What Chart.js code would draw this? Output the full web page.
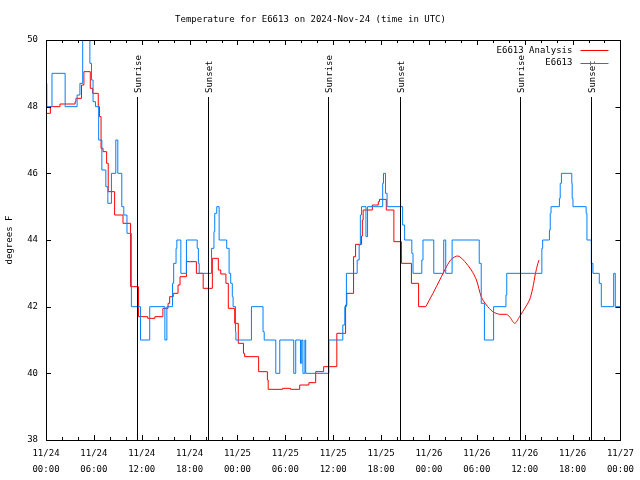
<!DOCTYPE html>
<html>
<head>
<meta charset="utf-8">
<title>Temperature for E6613</title>
<script src="https://cdn.jsdelivr.net/npm/chart.js@4.4.1/dist/chart.umd.min.js"></script>
<style>
    html, body { margin: 0; padding: 0; background: #fff; }
</style>
</head>
<body>
<canvas id="tempChart" width="640" height="480"></canvas>
<script>
// Jam sejak 11/24 00:00 UTC, nilai dalam derajat F
const obsHours = [0, 0.1, 0.75, 2.4, 3.9, 4.25, 4.6, 5.5, 5.7, 5.9, 6.2, 6.6, 7.0, 7.5, 7.75, 8.2, 8.75, 9.0, 9.5, 9.75,
    10.15, 10.7, 11.85, 13.0, 14.9, 15.15, 15.85, 16.0, 16.3, 16.4, 16.9, 17.6, 18.95, 19.1, 19.2, 20.75, 21.05, 21.15, 21.4, 21.7,
    22.65, 22.95, 23.15, 23.35, 23.45, 23.75, 23.8, 25.75, 27.2, 27.35, 28.8, 29.3, 31.05, 31.3, 31.9, 32.05, 32.2, 32.45, 32.55, 35.45,
    37.2, 37.45, 37.65, 39.0, 39.25, 39.4, 39.55, 40.1, 40.3, 42.2, 42.3, 42.55, 42.75, 44.7, 44.95, 45.85, 46.0, 47.1, 47.25, 48.6,
    49.85, 50.1, 50.9, 54.3, 54.55, 54.95, 56.1, 57.65, 57.75, 62.15, 62.25, 63.1, 63.2, 63.3, 64.35, 64.45, 64.6, 65.9, 65.95, 66.05,
    67.7, 67.8, 68.35, 68.55, 69.35, 69.6, 71.15, 71.35, 72];
const obsTemps = [48.7, 48.0, 49.0, 48.0, 48.35, 48.7, 50.5, 49.3, 48.8, 48.15, 48.0, 47.0, 46.1, 45.6, 45.1, 46.0, 47.0, 46.0, 45.0, 44.75,
    44.2, 42.0, 41.0, 42.0, 41.0, 42.0, 42.7, 43.3, 43.75, 44.0, 43.0, 44.0, 43.75, 43.3, 43.0, 43.75, 44.25, 44.8, 45.0, 44.0,
    43.75, 43.0, 42.7, 42.3, 42.0, 41.25, 41.0, 42.0, 41.25, 41.0, 40.0, 41.0, 40.0, 41.0, 40.3, 41.0, 40.0, 41.0, 40.0, 41.0,
    41.45, 42.0, 43.0, 43.4, 43.85, 44.75, 45.0, 44.1, 45.0, 45.7, 46.0, 45.4, 45.0, 44.45, 44.0, 43.6, 43.0, 43.4, 44.0, 43.0,
    44.0, 43.0, 44.0, 43.3, 42.1, 41.0, 42.0, 42.35, 43.0, 43.75, 44.0, 44.3, 44.8, 45.0, 45.25, 45.7, 46.0, 45.7, 45.25, 45.0,
    44.8, 44.0, 43.3, 43.0, 42.7, 42.0, 43.0, 42.0, 42.0];

// Analysis: bagian bertangga lalu bagian halus
const anaStepHours = [0, 0.55, 1.75, 3.65, 3.75, 4.45, 4.75, 5.55, 5.85, 6.55, 6.7, 6.9, 7.15, 7.6, 7.8, 8.6, 9.65, 10.6, 11.6, 12.75,
    13.65, 14.65, 15.3, 15.5, 15.95, 16.55, 16.8, 17.6, 18.85, 19.7, 20.85, 21.6, 21.9, 22.55, 22.85, 23.65, 24.1, 24.75, 24.9, 26.65,
    27.75, 27.85, 29.65, 30.65, 31.8, 32.95, 33.8, 34.8, 36.45, 37.55, 37.7, 38.55, 38.8, 39.55, 39.65, 39.75, 40.9, 41.65, 41.8, 42.65,
    43.6, 44.55, 45.8, 46.7, 47.6];
const anaStepTemps = [47.8, 48.0, 48.08, 48.15, 48.25, 48.65, 49.05, 48.55, 48.4, 48.0, 47.7, 46.75, 46.65, 46.3, 45.45, 44.75, 44.5, 42.6, 41.7, 41.65,
    41.7, 41.95, 42.1, 42.3, 42.4, 42.65, 42.9, 43.35, 43.0, 42.55, 43.45, 43.1, 42.98, 42.7, 41.95, 41.5, 40.9, 40.6, 40.5, 40.05,
    39.8, 39.52, 39.55, 39.52, 39.65, 39.72, 40.05, 40.2, 41.2, 42.05, 42.4, 43.5, 43.87, 44.12, 44.6, 44.9, 45.05, 45.15, 45.22, 44.9,
    43.95, 43.3, 42.7, 42.0, 42.0];
const anaSmoothHours = [47.6, 48.5, 49.35, 50.2, 50.8, 51.65, 52.5, 53.3, 53.95, 54.55, 55.2, 56.0, 56.85, 57.7, 58.1, 58.75, 59.35, 59.75,
    60.6, 61.0, 61.35, 61.65, 61.8];
const anaSmoothTemps = [42.0, 42.4, 42.8, 43.2, 43.42, 43.52, 43.35, 43.1, 42.8, 42.3, 42.05, 41.85, 41.77, 41.77, 41.7, 41.5, 41.7, 41.85,
    42.2, 42.55, 43.0, 43.3, 43.4];

const sunHours = [11.43, 20.32, 35.35, 44.37, 59.39, 68.28];
const sunLabels = ["Sunrise", "Sunset", "Sunrise", "Sunset", "Sunrise", "Sunset"];

const tickHours = [0, 6, 12, 18, 24, 30, 36, 42, 48, 54, 60, 66, 72];
const tickLabels = [["11/24", "00:00"], ["11/24", "06:00"], ["11/24", "12:00"], ["11/24", "18:00"], ["11/25", "00:00"],
    ["11/25", "06:00"], ["11/25", "12:00"], ["11/25", "18:00"], ["11/26", "00:00"], ["11/26", "06:00"], ["11/26", "12:00"],
    ["11/26", "18:00"], ["11/27", "00:00"]];
const yTicks = [38, 40, 42, 44, 46, 48, 50];

const FONT = '"DejaVu Sans Mono", "Liberation Mono", monospace';
const RED = "#ff0000";
const BLUE = "#0080ff";

const toPoints = (hours, temps) => hours.map((h, i) => ({ x: h, y: temps[i] }));

// Bingkai, tick ke dalam, garis sunrise/sunset dan legenda ala gnuplot
const gnuplotFrame = {
    id: "gnuplotFrame",
    afterDatasetsDraw(chart) {
        const { ctx, chartArea: a, scales } = chart;
        const x = scales.x, y = scales.y;
        ctx.save();
        ctx.strokeStyle = "#000";
        ctx.fillStyle = "#000";
        ctx.lineWidth = 1;

        // tick sumbu y (kiri dan kanan)
        yTicks.forEach(v => {
            const py = Math.round(y.getPixelForValue(v)) + 0.5;
            ctx.beginPath();
            ctx.moveTo(a.left, py); ctx.lineTo(a.left + 5, py);
            ctx.moveTo(a.right, py); ctx.lineTo(a.right - 5, py);
            ctx.stroke();
        });
        // tick sumbu x: mayor tiap 6 jam, minor tiap 2 jam
        for (let h = 0; h <= 72; h += 2) {
            const px = Math.round(x.getPixelForValue(h)) + 0.5;
            const len = h % 6 === 0 ? 5 : 3;
            ctx.beginPath();
            ctx.moveTo(px, a.bottom); ctx.lineTo(px, a.bottom - len);
            ctx.moveTo(px, a.top); ctx.lineTo(px, a.top + len);
            ctx.stroke();
        }

        // garis matahari
        ctx.font = "9px " + FONT;
        sunHours.forEach((h, i) => {
            const px = Math.round(x.getPixelForValue(h)) + 0.5;
            ctx.beginPath();
            ctx.moveTo(px, a.top + 57);
            ctx.lineTo(px, a.bottom);
            ctx.stroke();
            ctx.save();
            ctx.translate(px + 1, a.top + 53);
            ctx.rotate(-Math.PI / 2);
            ctx.textAlign = "left";
            ctx.textBaseline = "middle";
            ctx.fillText(sunLabels[i], 0, 0);
            ctx.restore();
        });

        // legenda
        const items = [chart.data.datasets[1], chart.data.datasets[0]];
        items.forEach((ds, i) => {
            const ly = a.top + 10 + i * 12.5;
            ctx.textAlign = "right";
            ctx.textBaseline = "middle";
            ctx.fillText(ds.label, a.right - 48, ly + 0.5);
            ctx.strokeStyle = ds.borderColor;
            ctx.beginPath();
            ctx.moveTo(a.right - 40, Math.round(ly) + 0.5);
            ctx.lineTo(a.right - 12, Math.round(ly) + 0.5);
            ctx.stroke();
        });

        // bingkai plot
        ctx.strokeStyle = "#000";
        ctx.strokeRect(Math.round(a.left) + 0.5, Math.round(a.top) + 0.5,
            Math.round(a.right - a.left), Math.round(a.bottom - a.top));
        ctx.restore();
    }
};

const ctx = document.getElementById("tempChart").getContext("2d");

new Chart(ctx, {
    type: "line",
    data: {
        datasets: [
            {
                label: "E6613",
                data: toPoints(obsHours, obsTemps),
                borderColor: BLUE,
                borderWidth: 1,
                stepped: true,
                pointRadius: 0,
                fill: false
            },
            {
                label: "E6613 Analysis",
                data: toPoints(anaStepHours, anaStepTemps),
                borderColor: RED,
                borderWidth: 1,
                stepped: true,
                pointRadius: 0,
                fill: false
            },
            {
                label: "E6613 Analysis (smooth)",
                data: toPoints(anaSmoothHours, anaSmoothTemps),
                borderColor: RED,
                borderWidth: 1,
                tension: 0.3,
                pointRadius: 0,
                fill: false
            }
        ]
    },
    options: {
        responsive: false,
        animation: false,
        layout: { padding: { left: 0, right: 19, top: 0, bottom: 0 } },
        plugins: {
            legend: { display: false },
            tooltip: { enabled: false },
            title: {
                display: true,
                text: "Temperature for E6613 on 2024-Nov-24 (time in UTC)",
                color: "#000",
                font: { family: FONT, size: 9, weight: "normal" },
                padding: { top: 14, bottom: 15.2 }
            }
        },
        scales: {
            x: {
                type: "linear",
                min: 0,
                max: 72,
                grid: { display: false, drawTicks: false },
                border: { display: false },
                afterBuildTicks: (scale) => { scale.ticks = tickHours.map(v => ({ value: v })); },
                afterFit: (scale) => { scale.height = 40; },
                ticks: {
                    autoSkip: false,
                    maxRotation: 0,
                    color: "#000",
                    padding: 6,
                    font: { family: FONT, size: 9, lineHeight: "16px" },
                    callback: (v) => tickLabels[tickHours.indexOf(v)]
                }
            },
            y: {
                min: 38,
                max: 50,
                grid: { display: false, drawTicks: false },
                border: { display: false },
                afterBuildTicks: (scale) => { scale.ticks = yTicks.map(v => ({ value: v })); },
                afterFit: (scale) => { scale.width = 46; },
                ticks: {
                    color: "#000",
                    padding: 8,
                    font: { family: FONT, size: 9 }
                },
                title: {
                    display: true,
                    text: "degrees F",
                    color: "#000",
                    font: { family: FONT, size: 9 },
                    padding: { top: 4, bottom: 0 }
                }
            }
        }
    },
    plugins: [gnuplotFrame]
});
</script>
</body>
</html>
